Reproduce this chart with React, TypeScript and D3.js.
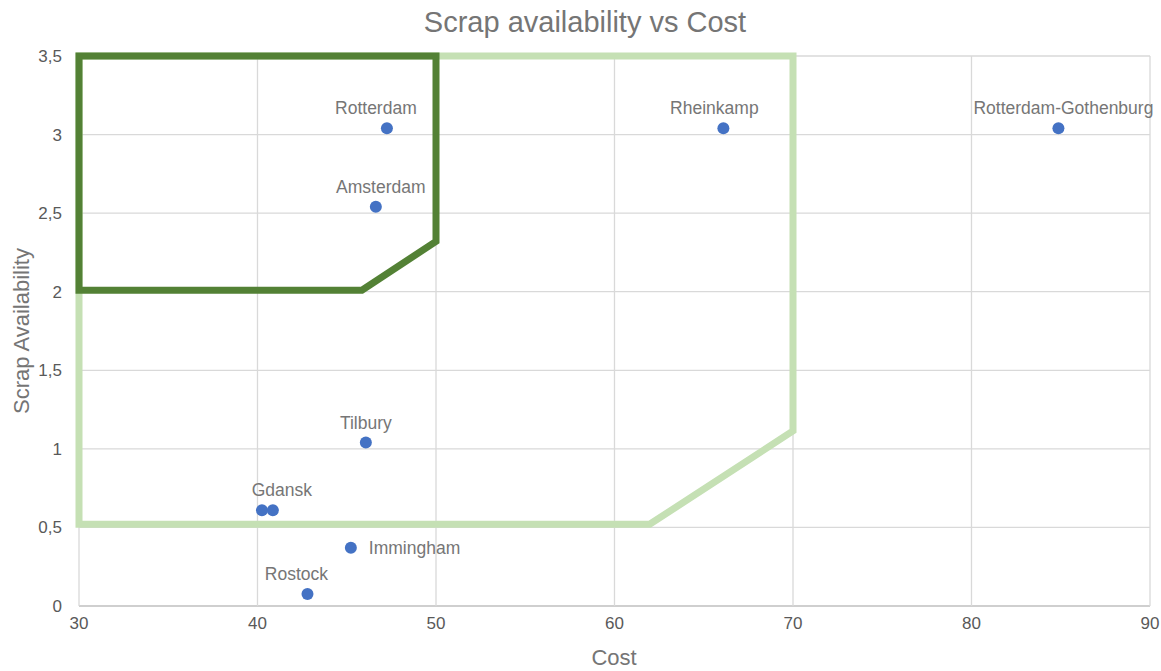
import React from "react";
import * as d3 from "d3";

const names = ["Rotterdam", "Amsterdam", "Rheinkamp", "Rotterdam-Gothenburg", "Tilbury", "Gdansk", "Gdansk2", "Immingham", "Rostock"];
const costs = [47.25, 46.63, 66.1, 84.87, 46.07, 40.25, 40.86, 45.23, 42.8];
const scrap = [3.04, 2.54, 3.04, 3.04, 1.04, 0.61, 0.61, 0.37, 0.076];
const labels = ["Rotterdam", "Amsterdam", "Rheinkamp", "Rotterdam-Gothenburg", "Tilbury", "", "Gdansk", "Immingham", "Rostock"];

const xTicks = [30, 40, 50, 60, 70, 80, 90];
const yTicks = [0, 0.5, 1, 1.5, 2, 2.5, 3, 3.5];

const innerZoneX = [30, 50, 50, 45.85, 30];
const innerZoneY = [3.5, 3.5, 2.32, 2.01, 2.01];
const outerZoneX = [30, 70, 70, 61.97, 30];
const outerZoneY = [3.5, 3.5, 1.114, 0.52, 0.52];

const W = 1161, H = 671;
const plot = { left: 79, right: 1150, top: 56, bottom: 606 };
const font = "'Liberation Sans', Arial, sans-serif";
const labelDx: Record<string, number> = {
  Rotterdam: -11, Amsterdam: 5, Rheinkamp: -9, "Rotterdam-Gothenburg": 5, Tilbury: 0, Gdansk: 9, Rostock: -11,
};

export default function App() {
  const x = d3.scaleLinear().domain([30, 90]).range([plot.left, plot.right]);
  const y = d3.scaleLinear().domain([0, 3.5]).range([plot.bottom, plot.top]);
  const fmt = (v: number) => String(v).replace(".", ",");
  const line = d3.line<[number, number]>().x(d => x(d[0])).y(d => y(d[1]));
  const innerPts = innerZoneX.map((v, i) => [v, innerZoneY[i]] as [number, number]);
  const outerPts = outerZoneX.map((v, i) => [v, outerZoneY[i]] as [number, number]);

  return (
    <svg width={W} height={H} style={{ position: "absolute", left: 0, top: 0, background: "#fff" }} fontFamily={font}>
      <rect width={W} height={H} fill="#fff" />
      {yTicks.map(t => (
        <line key={"gy" + t} x1={plot.left} x2={plot.right} y1={y(t)} y2={y(t)} stroke={t === 0 ? "#bfbfbf" : "#d9d9d9"} strokeWidth={1.3} />
      ))}
      {xTicks.map(t => (
        <line key={"gx" + t} x1={x(t)} x2={x(t)} y1={plot.top} y2={plot.bottom} stroke="#d9d9d9" strokeWidth={1.3} />
      ))}
      {yTicks.map(t => (
        <text key={"ty" + t} x={62} y={y(t)} dy="0.35em" textAnchor="end" fontSize={17} fill="#595959">{fmt(t)}</text>
      ))}
      {xTicks.map(t => (
        <text key={"tx" + t} x={x(t)} y={629} textAnchor="middle" fontSize={17} fill="#595959">{t}</text>
      ))}
      <path d={line(outerPts)! + "Z"} fill="none" stroke="#c5e0b4" strokeWidth={7} strokeLinejoin="miter" />
      <path d={line(innerPts)! + "Z"} fill="none" stroke="#538135" strokeWidth={7} strokeLinejoin="miter" />
      {costs.map((c, i) => (
        <circle key={"p" + i} cx={x(c)} cy={y(scrap[i])} r={6} fill="#4472c4" />
      ))}
      {labels.map((l, i) => l && (
        l === "Immingham" ? (
          <text key={"l" + i} x={x(costs[i]) + 18} y={y(scrap[i])} dy="0.35em" fontSize={17.5} fill="#767676">{l}</text>
        ) : (
          <text key={"l" + i} x={x(costs[i]) + (labelDx[l] || 0)} y={y(scrap[i]) - 14} textAnchor="middle" fontSize={17.5} fill="#767676">{l}</text>
        )
      ))}
      <text x={585} y={32} textAnchor="middle" fontSize={29} fill="#757575">Scrap availability vs Cost</text>
      <text x={614} y={665} textAnchor="middle" fontSize={22} fill="#757575">Cost</text>
      <text transform={`translate(29, ${(plot.top + plot.bottom) / 2}) rotate(-90)`} textAnchor="middle" fontSize={22} fill="#757575">Scrap Availability</text>
    </svg>
  );
}
